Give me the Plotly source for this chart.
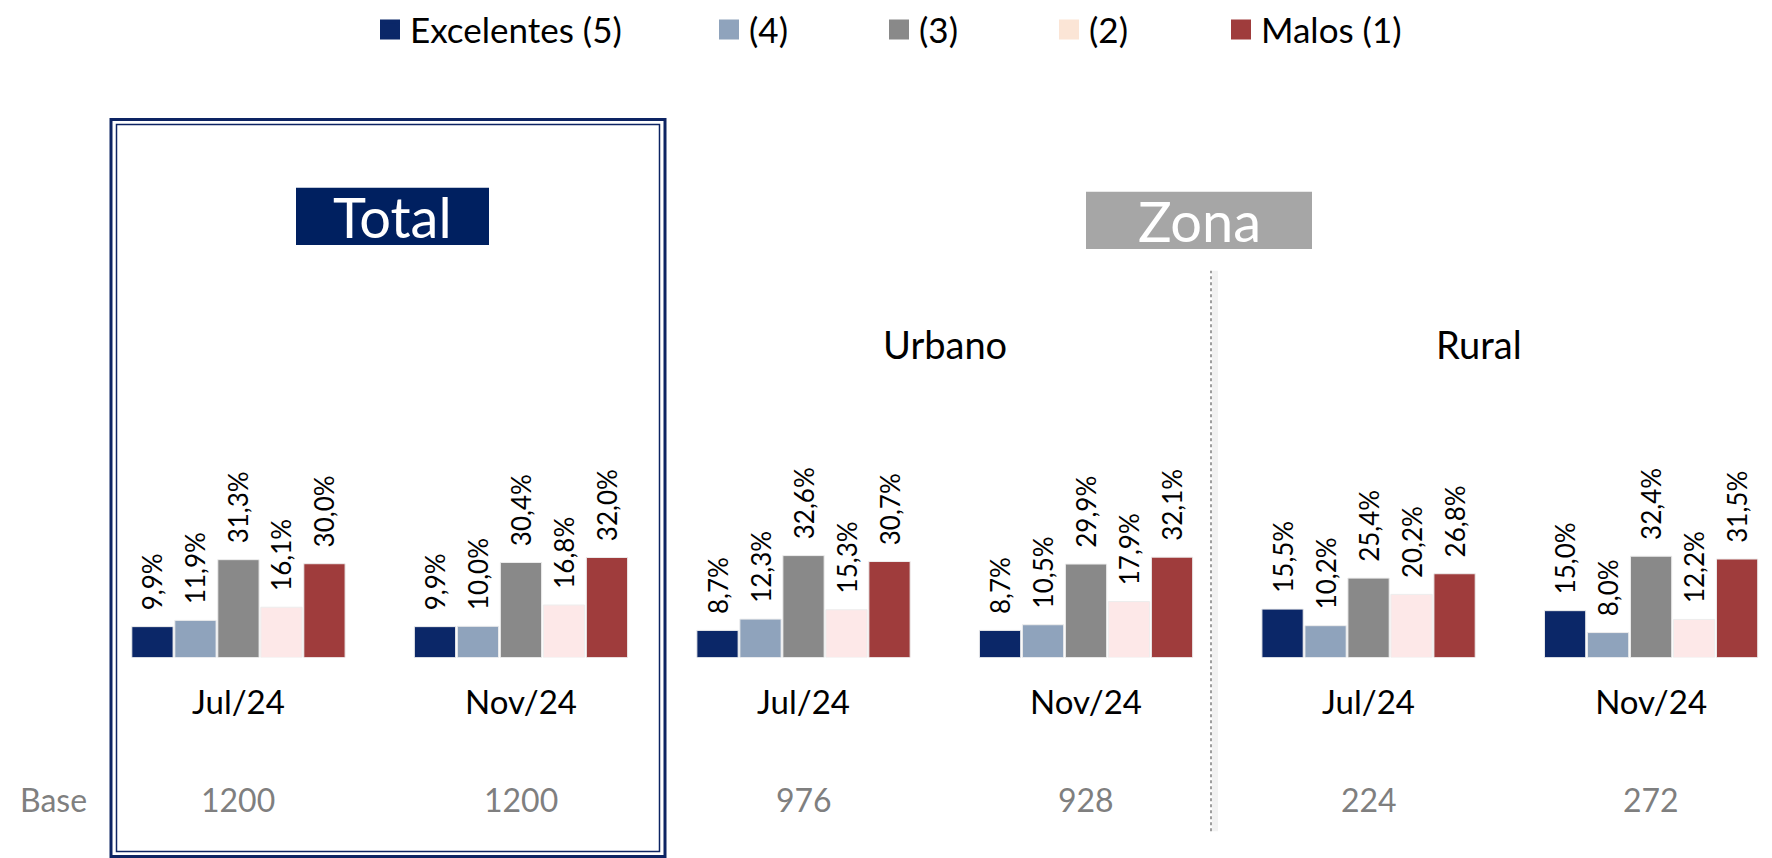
import plotly.graph_objects as go

W, H = 1772, 858

# ---- data -------------------------------------------------------------
panels = ["Total", "Urbano", "Rural"]
periods = ["Jul/24", "Nov/24"]
ratings = ["Excelentes (5)", "(4)", "(3)", "(2)", "Malos (1)"]

excelentes_5 = [9.9, 9.9, 8.7, 8.7, 15.5, 15.0]
nota_4 = [11.9, 10.0, 12.3, 10.5, 10.2, 8.0]
nota_3 = [31.3, 30.4, 32.6, 29.9, 25.4, 32.4]
nota_2 = [16.1, 16.8, 15.3, 17.9, 20.2, 12.2]
malos_1 = [30.0, 32.0, 30.7, 32.1, 26.8, 31.5]
bases = [1200, 1200, 976, 928, 224, 272]

series = [excelentes_5, nota_4, nota_3, nota_2, malos_1]

# ---- style ------------------------------------------------------------
bar_colors = ["#0B2768", "#8FA3BC", "#898989", "#FDE8E8", "#9F3C3C"]
legend_colors = ["#0B2768", "#8FA3BC", "#898989", "#FBE5D6", "#9F3C3C"]
FONT = "Lato"
NAVY = "#0D2463"
GREY_TXT = "#7F7F7F"
LABEL_PAD = "\u00a0\u00a0"  # small gap between bar top and its value label


def px_x(x):
    return x / W


def px_y(y):
    return 1 - y / H


keys = [f"{p} {t}" for p in panels for t in periods]
tick_text = [t for p in panels for t in periods]

fig = go.Figure()

for name, vals, col in zip(ratings, series, bar_colors):
    fig.add_trace(go.Bar(
        x=keys, y=vals, name=name,
        marker=dict(color=col, line=dict(color="#EDEDED", width=1)),
        texttemplate=LABEL_PAD + "%{y:.1f}%", textposition="outside", textangle=-90,
        textfont=dict(family=FONT, size=26, color="black"),
        constraintext="none", cliponaxis=False,
        showlegend=False, hoverinfo="skip",
    ))

# legend entries (one legend per entry so they can be spaced freely)
legend_ids = ["legend", "legend2", "legend3", "legend4", "legend5"]
legend_left = [370, 709, 879, 1049, 1221]
for name, col, lid in zip(ratings, legend_colors, legend_ids):
    fig.add_trace(go.Scatter(
        x=[None], y=[None], mode="markers", name=name,
        marker=dict(symbol="square", size=16, color=col,
                    line=dict(color=col, width=4)),
        legend=lid, showlegend=True, hoverinfo="skip",
    ))

legend_layout = {}
for lid, lx in zip(legend_ids, legend_left):
    legend_layout[lid] = dict(
        x=px_x(lx), y=px_y(19), xanchor="left", yanchor="middle",
        orientation="h", bgcolor="rgba(0,0,0,0)",
        font=dict(family=FONT, size=35, color="black"),
    )


def label(text, x, y, size, color, xref="paper", xanchor="center"):
    return dict(x=x, xref=xref, y=y, yref="paper", text=text,
                xanchor=xanchor, yanchor="middle", showarrow=False,
                font=dict(family=FONT, size=size, color=color))


annotations = []
# base counts under each group
for k, b in zip(keys, bases):
    annotations.append(label(str(b), k, px_y(799), 32, GREY_TXT, xref="x"))
annotations.append(label("Base", px_x(18), px_y(799), 32, GREY_TXT, xanchor="left"))
# sub-panel titles
annotations.append(label("Urbano", 2.5, px_y(337), 38, "black", xref="x"))
annotations.append(label("Rural", 4.39, px_y(337), 38, "black", xref="x"))
# section headers
annotations.append(label("Total", px_x(392.5), px_y(208), 56, "white"))
annotations.append(label("Zona", px_x(1199), px_y(212), 56, "white"))

shapes = [
    # header boxes
    dict(type="rect", xref="paper", yref="paper",
         x0=px_x(296), x1=px_x(489), y0=px_y(237), y1=px_y(179),
         fillcolor="#002060", line=dict(width=0), layer="below"),
    dict(type="rect", xref="paper", yref="paper",
         x0=px_x(1086), x1=px_x(1312), y0=px_y(241), y1=px_y(183),
         fillcolor="#A6A6A6", line=dict(width=0), layer="below"),
    # double frame around the total panel
    dict(type="rect", xref="paper", yref="paper",
         x0=px_x(111), x1=px_x(665), y0=px_y(856.5), y1=px_y(110),
         line=dict(color=NAVY, width=3)),
    dict(type="rect", xref="paper", yref="paper",
         x0=px_x(116.5), x1=px_x(659.5), y0=px_y(851.5), y1=px_y(115),
         line=dict(color=NAVY, width=1.5)),
    # divider between Urbano and Rural
    dict(type="line", xref="paper", yref="paper",
         x0=px_x(1215), x1=px_x(1215), y0=px_y(831), y1=px_y(263),
         line=dict(color="rgba(0,0,0,0.05)", width=6)),
    dict(type="line", xref="paper", yref="paper",
         x0=px_x(1211), x1=px_x(1211), y0=px_y(831), y1=px_y(263),
         line=dict(color="#7F7F7F", width=1.5, dash="dot")),
]

fig.update_layout(
    width=W, height=H,
    margin=dict(l=0, r=0, t=0, b=0),
    paper_bgcolor="white", plot_bgcolor="white",
    font=dict(family=FONT, color="black"),
    barmode="group", bargap=0.239, bargroupgap=0.04,
    separators=",.",
    xaxis=dict(
        type="category", categoryorder="array", categoryarray=keys,
        tickvals=keys, ticktext=tick_text,
        range=[-0.844, 5.428], domain=[0, 1],
        showline=False, showgrid=False, zeroline=False,
        ticks="", ticklabelstandoff=22,
        tickfont=dict(family=FONT, size=33, color="black"),
        fixedrange=True,
    ),
    yaxis=dict(
        range=[0, 100], domain=[px_y(655), px_y(338)],
        visible=False, fixedrange=True,
    ),
    annotations=annotations,
    shapes=shapes,
    **legend_layout,
)

fig.write_html("out.html")
